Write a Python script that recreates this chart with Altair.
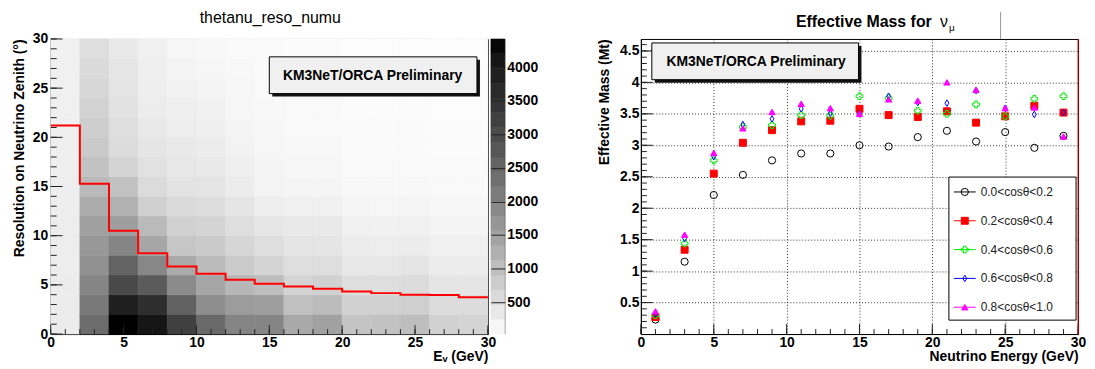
import altair as alt
import pandas as pd

FONT = "Liberation Sans, Arial, Helvetica, sans-serif"
NARROW = "Liberation Sans Narrow, Liberation Sans, Arial, sans-serif"

# ---------------- left panel: thetanu_reso_numu (2D histogram) ----------------
energy_bin_edges = [0, 2, 4, 6, 8, 10, 12, 14, 16, 18, 20, 22, 24, 26, 28, 30]
theta_bin_edges = [0, 2, 4, 6, 8, 10, 12, 14, 16, 18, 20, 22, 24, 26, 28, 30]

# counts per energy bin, theta bins listed from 0-2 deg up to 28-30 deg
counts_E00_02 = [290, 290, 285, 280, 275, 270, 265, 260, 250, 245, 240, 235, 230, 225, 220]
counts_E02_04 = [2400, 2170, 1950, 1760, 1640, 1500, 1320, 1090, 950, 820, 760, 690, 620, 570, 500]
counts_E04_06 = [4390, 3880, 3040, 2550, 1950, 1540, 1220, 950, 670, 540, 500, 450, 410, 380, 330]
counts_E06_08 = [4100, 3570, 2690, 1930, 1400, 1070, 730, 560, 465, 400, 330, 290, 260, 240, 225]
counts_E08_10 = [3200, 2570, 1860, 1330, 880, 710, 570, 430, 360, 330, 275, 240, 205, 170, 140]
counts_E10_12 = [2450, 1800, 1400, 1080, 820, 660, 520, 420, 340, 290, 250, 210, 170, 140, 110]
counts_E12_14 = [1980, 1570, 1130, 810, 640, 500, 400, 290, 240, 200, 170, 140, 120, 100, 80]
counts_E14_16 = [1950, 1530, 1020, 670, 500, 380, 275, 190, 160, 140, 120, 100, 90, 80, 70]
counts_E16_18 = [1360, 980, 670, 500, 400, 330, 225, 150, 130, 110, 95, 85, 75, 65, 60]
counts_E18_20 = [1480, 1050, 710, 500, 400, 330, 225, 150, 130, 110, 95, 85, 75, 65, 60]
counts_E20_22 = [910, 710, 500, 360, 290, 225, 155, 100, 90, 80, 70, 60, 50, 45, 40]
counts_E22_24 = [950, 710, 500, 360, 275, 207, 138, 100, 90, 80, 70, 60, 50, 45, 40]
counts_E24_26 = [1035, 740, 535, 400, 290, 225, 155, 100, 90, 80, 70, 60, 50, 45, 40]
counts_E26_28 = [710, 535, 400, 290, 225, 172, 120, 86, 75, 65, 55, 50, 45, 40, 35]
counts_E28_30 = [670, 535, 400, 290, 225, 172, 120, 86, 75, 65, 55, 50, 45, 40, 35]
counts_by_energy = [counts_E00_02, counts_E02_04, counts_E04_06, counts_E06_08, counts_E08_10,
                    counts_E10_12, counts_E12_14, counts_E14_16, counts_E16_18, counts_E18_20,
                    counts_E20_22, counts_E22_24, counts_E24_26, counts_E26_28, counts_E28_30]

# red step line: resolution per energy bin (deg)
median_reso = [21.2, 15.27, 10.5, 8.22, 6.86, 6.12, 5.52, 5.12, 4.83, 4.6, 4.33, 4.16, 3.99, 3.98, 3.75]

z_min, z_max = 25, 4420
colorbar_labels = [500, 1000, 1500, 2000, 2500, 3000, 3500, 4000]
left_x_labels = [0, 5, 10, 15, 20, 25, 30]
left_y_labels = [0, 5, 10, 15, 20, 25, 30]

# ---------------- right panel: Effective Mass for nu_mu ----------------
energy = [1, 3, 5, 7, 9, 11, 13, 15, 17, 19, 21, 23, 25, 27, 29]
series_labels = ["0.0<cosθ<0.2", "0.2<cosθ<0.4", "0.4<cosθ<0.6", "0.6<cosθ<0.8", "0.8<cosθ<1.0"]
mass_cos00_02 = [0.23, 1.15, 2.21, 2.53, 2.76, 2.87, 2.87, 3.00, 2.98, 3.13, 3.23, 3.06, 3.21, 2.96, 3.15]
mass_cos02_04 = [0.27, 1.34, 2.55, 3.04, 3.24, 3.38, 3.39, 3.58, 3.48, 3.45, 3.54, 3.36, 3.46, 3.63, 3.52]
mass_cos04_06 = [0.30, 1.44, 2.76, 3.29, 3.32, 3.48, 3.47, 3.78, 3.75, 3.55, 3.50, 3.65, 3.46, 3.74, 3.78]
mass_cos06_08 = [0.32, 1.52, 2.82, 3.33, 3.42, 3.58, 3.51, 3.50, 3.78, 3.68, 3.67, 3.87, 3.59, 3.49, 3.52]
mass_cos08_10 = [0.36, 1.58, 2.88, 3.27, 3.53, 3.66, 3.59, 3.50, 3.73, 3.71, 4.00, 3.88, 3.59, 3.60, 3.14]
mass_series = [mass_cos00_02, mass_cos02_04, mass_cos04_06, mass_cos06_08, mass_cos08_10]
right_x_labels = [0, 5, 10, 15, 20, 25, 30]
right_y_labels = [0.5, 1, 1.5, 2, 2.5, 3, 3.5, 4, 4.5]

# ---------------- build tables ----------------
cells = pd.DataFrame([
    {"e_lo": energy_bin_edges[i], "e_hi": energy_bin_edges[i + 1],
     "t_lo": theta_bin_edges[j], "t_hi": theta_bin_edges[j + 1], "count": c}
    for i, col in enumerate(counts_by_energy) for j, c in enumerate(col)
])
step_df = pd.DataFrame({"e": energy_bin_edges, "reso": median_reso + [median_reso[-1]]})

n_bands = 20
band_w = (z_max - z_min) / n_bands
bands = pd.DataFrame({
    "lo": [z_min + k * band_w for k in range(n_bands)],
    "hi": [z_min + (k + 1) * band_w for k in range(n_bands)],
    "mid": [z_min + (k + 0.5) * band_w for k in range(n_bands)],
})

pts = pd.DataFrame([
    {"energy": e, "mass": m, "series": series_labels[s]}
    for s, vals in enumerate(mass_series) for e, m in zip(energy, vals)
])
legend_df = pd.DataFrame({"series": series_labels})
one = pd.DataFrame({"a": [0]})

W, H = 440, 297

# ---------------- left panel ----------------
xs_l = alt.Scale(domain=[0, 30], nice=False, zero=False)
ys_l = alt.Scale(domain=[0, 30], nice=False, zero=False)
zscale = alt.Scale(type="linear", domain=[0, 4400], range=["#ffffff", "#000000"], clamp=True)

ax_lx = alt.Axis(values=left_x_labels, title="Eᵥ (GeV)", titleAnchor="end", titleFontSize=14,
                 titleFontWeight="bold", titlePadding=0, labelFontSize=14, labelFontWeight="bold",
                 labelPadding=2, ticks=False, grid=False, domainColor="#000", labelFlush=False,
                 labelOverlap=False, labelColor="#000", titleColor="#000")
ax_ly = alt.Axis(values=left_y_labels, title="Resolution on Neutrino Zenith (°)", titleAnchor="end",
                 titleFontSize=14, titleFontWeight="bold", titlePadding=6, labelFontSize=14,
                 labelFontWeight="bold", labelPadding=3, ticks=False, grid=False, domainColor="#000",
                 labelFlush=False, labelOverlap=False, labelColor="#000", titleColor="#000")

heat = alt.Chart(cells).mark_rect(strokeWidth=0.6).encode(
    x=alt.X("e_lo:Q", scale=xs_l, axis=ax_lx), x2="e_hi",
    y=alt.Y("t_lo:Q", scale=ys_l, axis=ax_ly), y2="t_hi",
    color=alt.Color("count:Q", scale=zscale, legend=None),
    stroke=alt.Stroke("count:Q", scale=zscale, legend=None),
)
step = alt.Chart(step_df).mark_line(interpolate="step-after", color="#ff0000", strokeWidth=2).encode(
    x=alt.X("e:Q", scale=xs_l, axis=ax_lx), y=alt.Y("reso:Q", scale=ys_l, axis=ax_ly))

lx_minor = pd.DataFrame({"t": list(range(0, 31))})
lx_major = pd.DataFrame({"t": left_x_labels})
ly_minor = pd.DataFrame({"t": list(range(0, 31))})
ly_major = pd.DataFrame({"t": left_y_labels})
tick_l = [
    alt.Chart(lx_minor).mark_rule(color="#222").encode(x=alt.X("t:Q", scale=xs_l, axis=ax_lx), y=alt.value(H), y2=alt.value(H - 5)),
    alt.Chart(lx_major).mark_rule(color="#222").encode(x=alt.X("t:Q", scale=xs_l, axis=ax_lx), y=alt.value(H), y2=alt.value(H - 9)),
    alt.Chart(ly_minor).mark_rule(color="#222").encode(y=alt.Y("t:Q", scale=ys_l, axis=ax_ly), x=alt.value(0), x2=alt.value(6)),
    alt.Chart(ly_major).mark_rule(color="#222").encode(y=alt.Y("t:Q", scale=ys_l, axis=ax_ly), x=alt.value(0), x2=alt.value(12)),
]

def label_box(x0, y0, x1, y1, cx, cy):
    shadow = alt.Chart(one).mark_rect(color="#111").encode(
        x=alt.value(x0 + 3), x2=alt.value(x1 + 3), y=alt.value(y0 + 3), y2=alt.value(y1 + 3))
    box = alt.Chart(one).mark_rect(fill="#f0f0f0", stroke="#000", strokeWidth=1).encode(
        x=alt.value(x0), x2=alt.value(x1), y=alt.value(y0), y2=alt.value(y1))
    txt = alt.Chart(one).mark_text(text="KM3NeT/ORCA Preliminary", font=FONT, fontSize=14,
                                   fontWeight="bold", color="#000", align="center",
                                   baseline="middle").encode(x=alt.value(cx), y=alt.value(cy))
    return [shadow, box, txt]

left_title = alt.Chart(one).mark_text(text="thetanu_reso_numu", font=FONT, fontSize=16, color="#000",
                                      align="center", baseline="alphabetic").encode(
    x=alt.value(221), y=alt.value(-16))
cbar_edge = alt.Chart(one).mark_rule(color="#000").encode(
    x=alt.value(457), y=alt.value(0), y2=alt.value(H))

left_main = alt.layer(heat, step, *tick_l, *label_box(220, 18, 429, 55, 324, 37), left_title, cbar_edge)

cbar = alt.Chart(bands).mark_rect(strokeWidth=0.5).encode(
    x=alt.value(443), x2=alt.value(457),
    y=alt.Y("lo:Q", scale=alt.Scale(domain=[z_min, z_max], nice=False, zero=False),
            axis=alt.Axis(orient="right", offset=3, values=colorbar_labels, format="d", title=None,
                          tickSize=14, tickColor="#222", domain=False, grid=False, labelPadding=2,
                          labelFontSize=14, labelFontWeight="bold", labelColor="#000", zindex=1,
                          labelFlush=False)),
    y2="hi",
    color=alt.Color("mid:Q", scale=zscale, legend=None),
    stroke=alt.Stroke("mid:Q", scale=zscale, legend=None),
)

left = alt.layer(left_main, cbar).resolve_scale(y="independent").properties(width=W, height=H)

# ---------------- right panel ----------------
xs_r = alt.Scale(domain=[0, 30], nice=False, zero=False)
ys_r = alt.Scale(domain=[0, 4.69], nice=False, zero=False)
ax_rx = alt.Axis(values=right_x_labels, title="Neutrino Energy (GeV)", titleAnchor="end", titleFontSize=14,
                 titleFontWeight="bold", titlePadding=0, labelFontSize=14, labelFontWeight="bold",
                 labelPadding=2, ticks=False, grid=True, gridDash=[1, 2], gridColor="#000",
                 gridOpacity=0.8, domainColor="#000", labelFlush=False, labelOverlap=False,
                 labelColor="#000", titleColor="#000")
ax_ry = alt.Axis(values=right_y_labels, format="~g", title="Effective Mass (Mt)", titleAnchor="end",
                 titleFontSize=14, titleFontWeight="bold", titlePadding=8, labelFontSize=14,
                 labelFontWeight="bold", labelPadding=2, ticks=False, grid=True, gridDash=[1, 2],
                 gridColor="#000", gridOpacity=0.8, domainColor="#000", labelFlush=False,
                 labelOverlap=False, labelColor="#000", titleColor="#000")

colors = ["#000000", "#ff0000", "#00ee00", "#0000ff", "#ff00ff"]
shapes = ["circle", "square", "cross", "M0,-1L0.6,0L0,1L-0.6,0Z", "triangle-up"]
fills = ["transparent", "#ff0000", "transparent", "transparent", "#ff00ff"]
sizes = [52, 40, 64, 85, 56]
enc_common = dict(
    color=alt.Color("series:N", scale=alt.Scale(domain=series_labels, range=colors), legend=None),
    shape=alt.Shape("series:N", scale=alt.Scale(domain=series_labels, range=shapes), legend=None),
    fill=alt.Fill("series:N", scale=alt.Scale(domain=series_labels, range=fills), legend=None),
    size=alt.Size("series:N", scale=alt.Scale(domain=series_labels, range=sizes), legend=None),
)

points = alt.Chart(pts).mark_point(opacity=1, strokeWidth=1).encode(
    x=alt.X("energy:Q", scale=xs_r, axis=ax_rx), y=alt.Y("mass:Q", scale=ys_r, axis=ax_ry), **enc_common)

rx_minor = pd.DataFrame({"t": list(range(0, 31))})
rx_major = pd.DataFrame({"t": right_x_labels})
ry_minor = pd.DataFrame({"t": [k / 10 for k in range(1, 47)]})
ry_major = pd.DataFrame({"t": right_y_labels})
tick_r = [
    alt.Chart(rx_minor).mark_rule(color="#222").encode(x=alt.X("t:Q", scale=xs_r, axis=ax_rx), y=alt.value(H), y2=alt.value(H - 5)),
    alt.Chart(rx_major).mark_rule(color="#222").encode(x=alt.X("t:Q", scale=xs_r, axis=ax_rx), y=alt.value(H), y2=alt.value(H - 10)),
    alt.Chart(ry_minor).mark_rule(color="#222").encode(y=alt.Y("t:Q", scale=ys_r, axis=ax_ry), x=alt.value(0), x2=alt.value(6)),
    alt.Chart(ry_major).mark_rule(color="#222").encode(y=alt.Y("t:Q", scale=ys_r, axis=ax_ry), x=alt.value(0), x2=alt.value(12)),
]

title_a = alt.Chart(one).mark_text(text="Effective Mass for", font=FONT, fontSize=16, fontWeight="bold",
                                   color="#000", align="left", baseline="alphabetic").encode(
    x=alt.value(156), y=alt.value(-12))
title_nu = alt.Chart(one).mark_text(text="ν", font=FONT, fontSize=16, color="#000", align="left",
                                    baseline="alphabetic").encode(x=alt.value(301), y=alt.value(-12))
title_mu = alt.Chart(one).mark_text(text="μ", font=FONT, fontSize=10, color="#000", align="left",
                                    baseline="alphabetic").encode(x=alt.value(310), y=alt.value(-8))
title_edge = alt.Chart(one).mark_rule(color="#999").encode(
    x=alt.value(362), y=alt.value(-27), y2=alt.value(0))
red_edge = alt.Chart(one).mark_rule(color="#e00000").encode(
    x=alt.value(W), y=alt.value(0), y2=alt.value(H))

right_main = alt.layer(points, *tick_r, *label_box(11, 4, 219, 41, 116, 23),
                       title_a, title_nu, title_mu, title_edge, red_edge)

leg_y = alt.Y("series:N", scale=alt.Scale(type="point", domain=series_labels, range=[154, 270], padding=0),
              axis=None)
leg_box = alt.Chart(one).mark_rect(fill="#ffffff", stroke="#000", strokeWidth=1).encode(
    x=alt.value(310), x2=alt.value(438), y=alt.value(139), y2=alt.value(283))
leg_line = alt.Chart(legend_df).mark_rule(strokeWidth=1).encode(
    x=alt.value(315), x2=alt.value(337), y=leg_y,
    color=alt.Color("series:N", scale=alt.Scale(domain=series_labels, range=colors), legend=None))
leg_pt = alt.Chart(legend_df).mark_point(opacity=1, strokeWidth=1).encode(
    x=alt.value(326), y=leg_y, **enc_common)
leg_txt = alt.Chart(legend_df).mark_text(font=NARROW, fontSize=12, color="#222", align="left",
                                         baseline="middle").encode(
    x=alt.value(342), y=leg_y, text="series:N")
legend_layer = alt.layer(leg_box, leg_line, leg_pt, leg_txt)

right = alt.layer(right_main, legend_layer).resolve_scale(y="independent").properties(width=W, height=H)

chart = alt.hconcat(left, right, spacing=154, bounds="flush").resolve_scale(
    color="independent", stroke="independent", shape="independent", fill="independent",
    size="independent").properties(
    padding={"top": 0, "left": 3, "right": 0, "bottom": 0}).configure(font=FONT).configure_view(
    stroke="#000", strokeWidth=1)

chart.save("out.html", embed_options={"renderer": "svg", "actions": False})
